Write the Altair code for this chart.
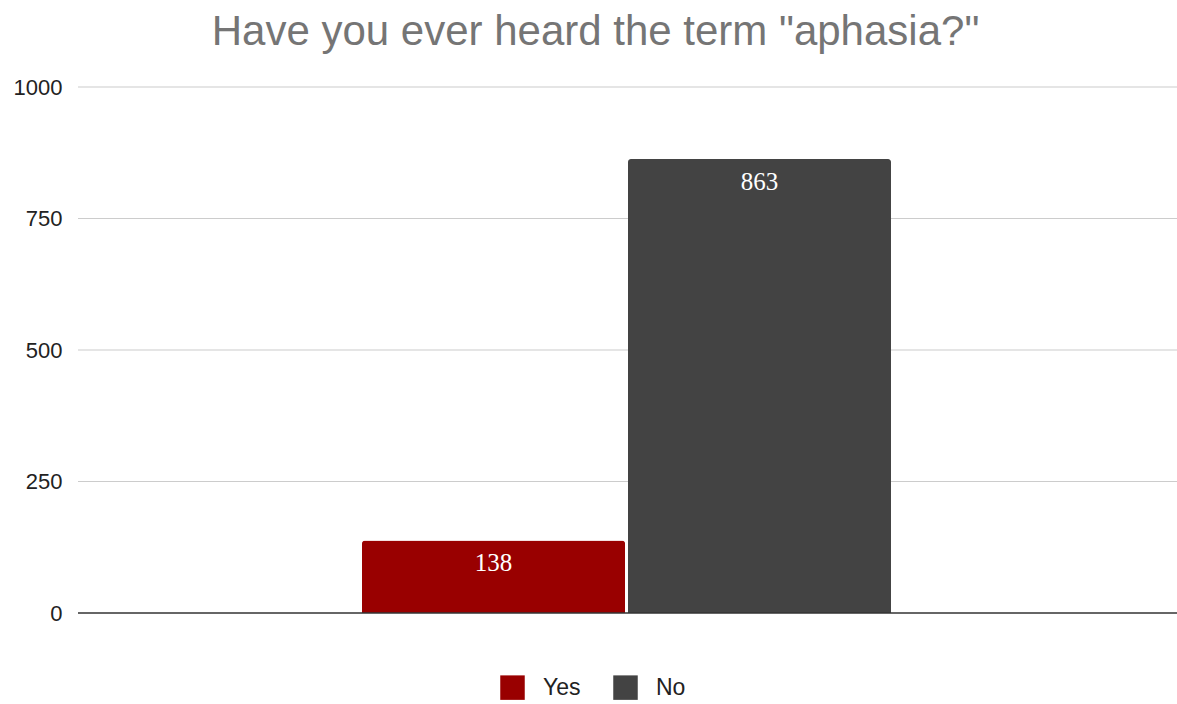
import altair as alt
import pandas as pd

answers = ["Yes", "No"]
counts = [138, 863]
colors = ["#990000", "#434343"]
y_ticks = [0, 250, 500, 750, 1000]

df = pd.DataFrame({"answer": answers, "count": counts})
grid_df = pd.DataFrame({"tick": y_ticks[1:]})

x = alt.X("answer:N", sort=answers,
          scale=alt.Scale(range=[284, 813], paddingInner=0.011, paddingOuter=0),
          axis=None)
y = alt.Y("count:Q",
          scale=alt.Scale(domain=[0, 1000], nice=False),
          axis=alt.Axis(values=y_ticks, title=None, format="d",
                        domain=False, ticks=False, grid=False, labelPadding=16,
                        labelFontSize=22, labelColor="#222222",
                        labelFont="Liberation Sans"))

grid = alt.Chart(grid_df).mark_rule(color="#cccccc", strokeWidth=1.2).encode(
    y=alt.Y("tick:Q", scale=alt.Scale(domain=[0, 1000], nice=False)),
    x=alt.value(0), x2=alt.value(1099))

baseline = alt.Chart(pd.DataFrame({"zero": [0]})).mark_rule(color="#333333", strokeWidth=1.5).encode(
    y="zero:Q", x=alt.value(0), x2=alt.value(1099))

bars = alt.Chart(df).mark_bar(cornerRadiusTopLeft=3, cornerRadiusTopRight=3).encode(
    x=x, y=y,
    color=alt.Color("answer:N", sort=answers,
                    scale=alt.Scale(domain=answers, range=colors),
                    legend=alt.Legend(title=None, orient="none", direction="horizontal",
                                      legendX=422, legendY=588,
                                      symbolType="square", symbolSize=600,
                                      symbolStrokeWidth=0, symbolOpacity=1,
                                      labelFontSize=23, labelFont="Liberation Sans",
                                      labelColor="#222222", columnPadding=32,
                                      labelOffset=18)),
)

labels = alt.Chart(df).mark_text(font="Liberation Serif", fontSize=25, color="white",
                                 baseline="middle", dy=23).encode(
    x=alt.X("answer:N", sort=answers), y="count:Q", text="count:Q")

chart = (grid + bars + baseline + labels).properties(
    width=1099, height=526,
    padding={"left": 78, "top": 87, "right": 0, "bottom": 91},
    autosize=alt.AutoSizeParams(type="none"),
    title=alt.TitleParams('Have you ever heard the term "aphasia?"',
                          fontSize=42, font="Liberation Sans", fontWeight="normal",
                          color="#757575", anchor="middle", dx=-32, offset=22),
).configure_view(stroke=None)

chart.save("out.html", embed_options={"renderer": "svg", "actions": False})
